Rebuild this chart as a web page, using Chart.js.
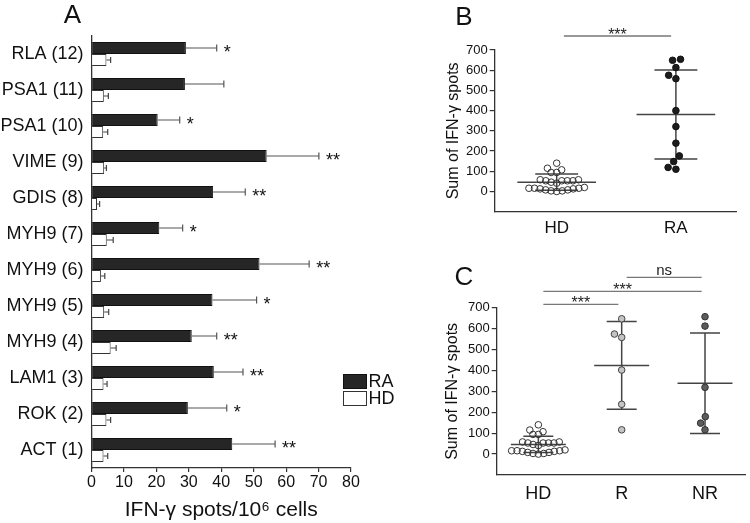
<!DOCTYPE html>
<html><head><meta charset="utf-8">
<script src="https://cdn.jsdelivr.net/npm/chart.js@4/dist/chart.umd.min.js"></script>
<style>
body{margin:0;background:#fff;width:750px;height:523px;position:relative;overflow:hidden}
.p{position:absolute}
</style></head><body>
<div class="p" style="left:0;top:0"><canvas id="cA" width="400" height="523"></canvas></div>
<div class="p" style="left:400px;top:0"><canvas id="cB" width="350" height="260"></canvas></div>
<div class="p" style="left:400px;top:260px"><canvas id="cC" width="350" height="263"></canvas></div>
<script>
// ---------- DATA ----------
const categoriesA = ['RLA (12)','PSA1 (11)','PSA1 (10)','VIME (9)','GDIS (8)','MYH9 (7)','MYH9 (6)','MYH9 (5)','MYH9 (4)','LAM1 (3)','ROK (2)','ACT (1)'];
const raMean = [29.1, 28.8, 20.4, 54.0, 37.5, 20.9, 51.8, 37.3, 30.9, 37.7, 29.7, 43.4];
const raErr  = [9.5, 12.0, 6.8, 16.1, 9.9, 7.2, 15.3, 13.6, 7.7, 9.0, 12.0, 13.2];
const hdMean = [4.6, 3.8, 3.6, 3.9, 1.7, 4.7, 2.9, 3.9, 5.9, 3.7, 4.6, 3.7];
const hdErr  = [1.3, 1.4, 1.4, 0.7, 0.8, 2.0, 1.2, 1.4, 1.7, 1.1, 1.3, 1.3];
const sigA   = ['*','','*','**','**','*','**','*','**','**','*','**'];
const seriesA = ['RA','HD'];

const groupsB = ['HD','RA'];
const hdSums  = [140,94,107,115,94,58,46,53,53,53,53,58,41,13,8,20,3,16,0,16,3,16,8,13];
const raSumsB = [654,649,613,575,558,400,321,239,176,148,110,119];
const meanB = [46, 381];
const sdB   = [40, 220];
const sigB  = [[0,1,'***']];

const groupsC = ['HD','R','NR'];
const rSums  = [647,574,558,402,238,116];
const nrSums = [657,612,319,179,148,116];
const meanC = [46, 424, 339];
const sdC   = [39, 210, 240];
const sigC  = [[0,1,'***'],[0,2,'***'],[1,2,'ns']];

// ---------- STYLE ----------
const FF = "'Liberation Sans', Arial, Helvetica, sans-serif";
Chart.defaults.font.family = FF;
Chart.defaults.color = '#111';
const AX = '#333';

function letter(ctx, t, x, y){
  ctx.save(); ctx.fillStyle='#111'; ctx.font='26px '+FF; ctx.textAlign='center'; ctx.textBaseline='alphabetic';
  ctx.fillText(t, x, y); ctx.restore();
}

// ---------- PANEL A ----------
const plugA = {
  id:'plugA',
  afterDatasetsDraw(chart){
    const {ctx, scales:{x}} = chart;
    const sets = [[raMean, raErr, 3.5, '#555'], [hdMean, hdErr, 3, '#444']];
    sets.forEach(([m,e,cap,col],di)=>{
      chart.getDatasetMeta(di).data.forEach((bar,i)=>{
        const x0 = x.getPixelForValue(m[i]), x1 = x.getPixelForValue(m[i]+e[i]), y = bar.y;
        ctx.save(); ctx.strokeStyle=col; ctx.lineWidth=1.2;
        ctx.beginPath(); ctx.moveTo(x0,y); ctx.lineTo(x1,y); ctx.moveTo(x1,y-cap); ctx.lineTo(x1,y+cap); ctx.stroke();
        if (di===0 && sigA[i]) {
          ctx.fillStyle='#111'; ctx.font='18px '+FF; ctx.textAlign='left'; ctx.textBaseline='alphabetic';
          ctx.fillText(sigA[i], x1+7, y+10);
        }
        ctx.restore();
      });
    });
    // legend
    ctx.save();
    chart.data.datasets.forEach((d,i)=>{
      const by = 374 + i*17;
      ctx.fillStyle = d.backgroundColor; ctx.strokeStyle = d.borderColor; ctx.lineWidth=1;
      ctx.fillRect(343, by, 24, 15); ctx.strokeRect(343.5, by+0.5, 23, 14);
      ctx.fillStyle='#111'; ctx.font='18px '+FF; ctx.textAlign='left'; ctx.textBaseline='middle';
      ctx.fillText(d.label, 368.5, by+8);
    });
    ctx.restore();
    letter(ctx, 'A', 72.5, 23);
  }
};

new Chart(document.getElementById('cA'), {
  type:'bar',
  data:{labels:categoriesA, datasets:[
    {label:seriesA[0], data:raMean, backgroundColor:'#262626', borderColor:'#111', borderWidth:1},
    {label:seriesA[1], data:hdMean, backgroundColor:'#ffffff', borderColor:'#333', borderWidth:1}
  ]},
  options:{
    indexAxis:'y', responsive:false, animation:false, events:[],
    layout:{padding:{top:36,right:49,left:0,bottom:0}},
    datasets:{bar:{categoryPercentage:0.667, barPercentage:1}},
    plugins:{legend:{display:false}, tooltip:{enabled:false}},
    scales:{
      x:{min:0,max:80,
        ticks:{stepSize:10, font:{size:16}, color:'#111', padding:1},
        grid:{drawOnChartArea:false, tickLength:4, color:AX, lineWidth:1.2},
        border:{color:AX, width:1.3},
        title:{display:true, text:'IFN-γ spots/10⁶ cells', font:{size:21}, color:'#111', padding:{top:0,bottom:0}},
        afterFit(s){ s.height = 55; }
      },
      y:{
        ticks:{font:{size:18}, color:'#111', padding:8},
        grid:{display:false, drawTicks:false},
        border:{color:AX, width:1.3},
        afterFit(s){ s.width = 91.5; }
      }
    }
  },
  plugins:[plugA]
});

// ---------- SCATTER helpers ----------
function swarm(values, center, chart, spacing){
  const xs = chart.scales.x, ys = chart.scales.y;
  const pxX = xs.getPixelForValue(1) - xs.getPixelForValue(0);
  const order = values.map((v,i)=>i).sort((a,b)=>values[a]-values[b]);
  const placed = [], out = [];
  for (const i of order){
    const py = ys.getPixelForValue(values[i]);
    const cands = [0];
    placed.forEach(p=>{
      const dy = py - p.py;
      if (Math.abs(dy) < spacing){ const dx = Math.sqrt(spacing*spacing - dy*dy); cands.push(p.px+dx, p.px-dx); }
    });
    cands.sort((a,b)=>Math.abs(a)-Math.abs(b) || a-b);
    let px = 0;
    for (const c of cands){
      if (placed.every(p=>(p.px-c)**2+(p.py-py)**2 >= spacing*spacing-0.01)){ px = c; break; }
    }
    placed.push({px,py});
    out[i] = {x:center + px/pxX, y:values[i]};
  }
  return out;
}

function meanSdPlugin(means, sds){
  return {
    id:'meansd',
    beforeDatasetsDraw(chart){
      const {ctx, scales:{x,y}} = chart;
      ctx.save(); ctx.strokeStyle='#444'; ctx.lineWidth=1.5;
      means.forEach((m,i)=>{
        const cx = x.getPixelForValue(i);
        const yM = y.getPixelForValue(m), yU = y.getPixelForValue(m+sds[i]), yL = y.getPixelForValue(m-sds[i]);
        ctx.beginPath();
        ctx.moveTo(x.getPixelForValue(i-0.33), yM); ctx.lineTo(x.getPixelForValue(i+0.33), yM);
        ctx.moveTo(x.getPixelForValue(i-0.18), yU); ctx.lineTo(x.getPixelForValue(i+0.18), yU);
        ctx.moveTo(x.getPixelForValue(i-0.18), yL); ctx.lineTo(x.getPixelForValue(i+0.18), yL);
        ctx.moveTo(cx, yU); ctx.lineTo(cx, yL);
        ctx.stroke();
      });
      ctx.restore();
    }
  };
}

function sigPlugin(list, offsets, lett){
  return {
    id:'sig',
    afterDraw(chart){
      const {ctx, scales:{x}, chartArea} = chart;
      list.forEach(([a,b,label],k)=>{
        const x1 = x.getPixelForValue(a+0.06), x2 = x.getPixelForValue(b-0.04);
        const yy = chartArea.top - offsets[k];
        ctx.save(); ctx.strokeStyle='#777'; ctx.lineWidth=1.3;
        ctx.beginPath(); ctx.moveTo(x1,yy); ctx.lineTo(x2,yy); ctx.stroke();
        ctx.fillStyle='#222'; ctx.textAlign='center'; ctx.textBaseline='alphabetic';
        if (label==='ns'){ ctx.font='15px '+FF; ctx.fillText(label,(x1+x2)/2, yy-2); }
        else { ctx.font='16px '+FF; ctx.fillText(label,(x1+x2)/2, yy+4); }
        ctx.restore();
      });
      letter(ctx, lett, 64, 25);
    }
  };
}

function scatterOpts(groups, xmin, xmax, pad, yW, xH, titlePad, tickPad, xFont, xPad){
  return {
    responsive:false, animation:false, events:[],
    layout:{padding:pad},
    plugins:{legend:{display:false}, tooltip:{enabled:false}},
    elements:{point:{radius:3.3, borderWidth:1}},
    scales:{
      x:{type:'linear', min:xmin, max:xmax,
        afterBuildTicks(s){ s.ticks = groups.map((g,i)=>({value:i})); },
        ticks:{callback:v=>groups[v], font:{size:xFont}, color:'#111', padding:xPad, autoSkip:false, maxRotation:0},
        grid:{display:false, drawTicks:false},
        border:{color:AX, width:1.3},
        afterFit(s){ s.height = xH; }
      },
      y:{min:-100, max:700,
        afterBuildTicks(s){ s.ticks = s.ticks.filter(t=>t.value>=0); },
        ticks:{stepSize:100, font:{size:13}, color:'#111', padding:tickPad},
        grid:{drawOnChartArea:false, tickLength:5, color:AX, lineWidth:1.2},
        border:{color:AX, width:1.3},
        title:{display:true, text:'Sum of IFN-γ spots', font:{size:16}, color:'#111', padding:{top:titlePad, bottom:0}},
        afterFit(s){ s.width = yW; }
      }
    }
  };
}

// ---------- PANEL B ----------
const chartB = new Chart(document.getElementById('cB'), {
  type:'scatter',
  data:{datasets:[
    {label:groupsB[0], data:hdSums.map(v=>({x:0,y:v})), backgroundColor:'rgba(255,255,255,0)', borderColor:'#333'},
    {label:groupsB[1], data:raSumsB.map(v=>({x:1,y:v})), backgroundColor:'#1c1c1c', borderColor:'#111'}
  ]},
  options:scatterOpts(groupsB, -0.52, 1.51, {top:50,right:13.3,left:0,bottom:0}, 94.7, 48.3, 43.7, 2, 17, 6),
  plugins:[meanSdPlugin(meanB, sdB), sigPlugin(sigB, [14], 'B')]
});
chartB.data.datasets[0].data = swarm(hdSums, 0, chartB, 5.6);
chartB.data.datasets[1].data = swarm(raSumsB, 1, chartB, 8);
chartB.update('none');

// ---------- PANEL C ----------
const chartC = new Chart(document.getElementById('cC'), {
  type:'scatter',
  data:{datasets:[
    {label:groupsC[0], data:hdSums.map(v=>({x:0,y:v})), backgroundColor:'rgba(255,255,255,0)', borderColor:'#333'},
    {label:groupsC[1], data:rSums.map(v=>({x:1,y:v})), backgroundColor:'#c4c4c4', borderColor:'#444'},
    {label:groupsC[2], data:nrSums.map(v=>({x:2,y:v})), backgroundColor:'#5c5c5c', borderColor:'#333'}
  ]},
  options:scatterOpts(groupsC, -0.5, 2.48, {top:47.7,right:3.3,left:0,bottom:0}, 96.7, 48, 43.4, 2, 18, 8),
  plugins:[meanSdPlugin(meanC, sdC), sigPlugin(sigC, [3.4,16.4,30.4], 'C')]
});
chartC.data.datasets[0].data = swarm(hdSums, 0, chartC, 5.4);
chartC.data.datasets[1].data = swarm(rSums, 1, chartC, 8);
chartC.data.datasets[2].data = swarm(nrSums, 2, chartC, 8);
chartC.update('none');
</script>
</body></html>
